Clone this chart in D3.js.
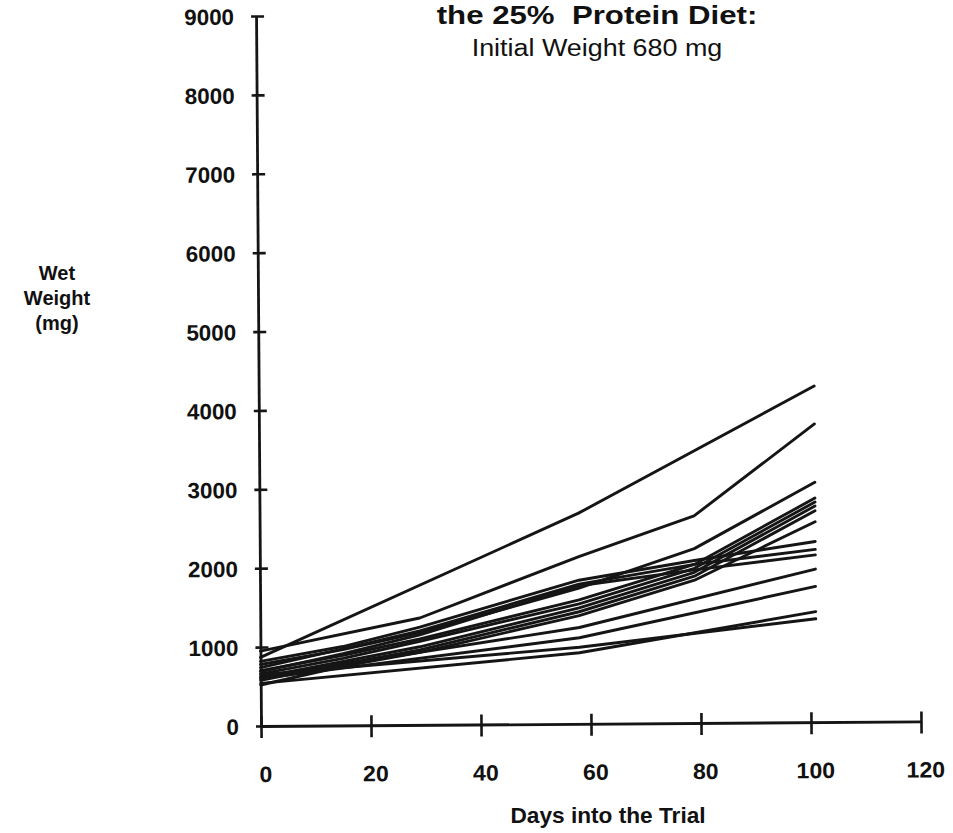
<!DOCTYPE html>
<html>
<head>
<meta charset="utf-8">
<script src="https://cdn.jsdelivr.net/npm/d3@7"></script>
<style>
  html, body { margin: 0; padding: 0; background: #fff; overflow: hidden; }
  svg { display: block; }
  text { font-family: "Liberation Sans", Arial, Helvetica, sans-serif; fill: #111; }
</style>
</head>
<body>
<svg id="chart" width="953" height="833"></svg>
<script>
// Sampling days of the trial (not every animal was weighed on every day)
const days = [0, 15, 29, 58, 79, 101];

// Wet weight (mg) of each animal on the sampling days; null = not weighed
const fish01 = [870, null, null, 2670, null, 4260];
const fish02 = [950, null, 1355, 2120, 2625, 3780];
const fish03 = [780, 960, 1170, 1720, 2210, 3040];
const fish04 = [700, 890, 1090, 1570, 2010, 2840];
const fish05 = [660, 850, 1060, 1520, 1960, 2790];
const fish06 = [620, 810, 990, 1470, 1910, 2740];
const fish07 = [580, 780, 950, 1420, 1860, 2680];
const fish08 = [520, 750, 920, 1370, 1810, 2540];
const fish09 = [820, 1000, 1240, 1820, 2060, 2290];
const fish10 = [740, 970, 1190, 1770, 2010, 2190];
const fish11 = [690, 910, 1140, 1750, 1940, 2120];
const fish12 = [620, null, null, 1220, null, 1940];
const fish13 = [600, null, null, 1090, null, 1720];
const fish14 = [540, null, null, 900, null, 1400];
const fish15 = [650, null, null, 970, null, 1310];

const animals = [fish01, fish02, fish03, fish04, fish05, fish06, fish07, fish08,
                 fish09, fish10, fish11, fish12, fish13, fish14, fish15];

const xTicks = [0, 20, 40, 60, 80, 100, 120];
const yTicks = [0, 1000, 2000, 3000, 4000, 5000, 6000, 7000, 8000, 9000];

const titleText = "the 25%  Protein Diet:";
const subtitleText = "Initial Weight 680 mg";
const xAxisTitle = "Days into the Trial";
const yAxisTitle = ["Wet", "Weight", "(mg)"];

const INK = "#151515";

const svg = d3.select("#chart");

const x = d3.scaleLinear().domain([0, 120]).range([261, 921]);
const y = d3.scaleLinear().domain([0, 9000]).range([726, 16]);

// Whole plotting frame sits slightly tilted
const plot = svg.append("g").attr("transform", `rotate(-0.4, ${x(0)}, ${y(0)})`);

// Growth curves
const line = d3.line().x(d => x(d[0])).y(d => y(d[1]));
plot.append("g")
  .selectAll("path")
  .data(animals.map(w => days.map((d, i) => [d, w[i]]).filter(p => p[1] != null)))
  .join("path")
  .attr("d", line)
  .attr("fill", "none")
  .attr("stroke", INK)
  .attr("stroke-width", 2.9)
  .attr("stroke-linejoin", "round")
  .attr("stroke-linecap", "round");

// Y axis
const gy = plot.append("g")
  .attr("transform", `translate(${x(0)},0)`)
  .attr("color", INK)
  .call(d3.axisLeft(y).tickValues(yTicks).tickSizeOuter(0).tickSizeInner(0).tickFormat(d3.format("d")));
gy.select(".domain").attr("stroke-width", 2.8);
gy.selectAll(".tick line").attr("x1", -5).attr("x2", 8).attr("stroke-width", 2.6);
gy.selectAll(".tick text")
  .attr("x", null).attr("dy", null)
  .attr("transform", "translate(-22,8) scale(1.02,1)")
  .attr("text-anchor", "end")
  .style("font-size", "22px").style("font-weight", "bold");

// X axis
const gx = plot.append("g")
  .attr("transform", `translate(0,${y(0)})`)
  .attr("color", INK)
  .call(d3.axisBottom(x).tickValues(xTicks).tickSizeOuter(0).tickSizeInner(0).tickFormat(d3.format("d")));
gx.select(".domain").attr("stroke-width", 2.8);
gx.selectAll(".tick line").attr("y1", -10).attr("y2", 12).attr("stroke-width", 2.6);
gx.selectAll(".tick text")
  .attr("y", null).attr("dy", null)
  .attr("transform", "translate(4,56) scale(1.05,1)")
  .attr("text-anchor", "middle")
  .style("font-size", "22px").style("font-weight", "bold");

// Lettering helper
function label(txt, px, py, size, weight, sx) {
  return svg.append("text")
    .attr("transform", `translate(${px},${py}) scale(${sx},1)`)
    .attr("text-anchor", "middle")
    .style("font-size", size + "px")
    .style("font-weight", weight)
    .style("white-space", "pre")
    .text(txt);
}

label(titleText, 597, 24, 26, "bold", 1.2);
label(subtitleText, 597, 56, 23, "normal", 1.17);
label(xAxisTitle, 608, 823, 22, "bold", 1.03);
yAxisTitle.forEach((t, i) => label(t, 57, 280 + i * 25, 20, "bold", 1.0));
</script>
</body>
</html>
